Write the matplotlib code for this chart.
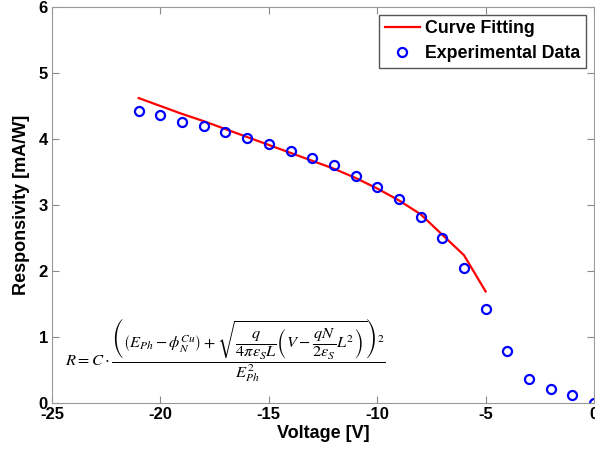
import matplotlib
matplotlib.use("Agg")
import matplotlib.pyplot as plt
import numpy as np

plt.rcParams['font.family'] = ['Liberation Sans', 'DejaVu Sans']
plt.rcParams['mathtext.fontset'] = 'stix'
plt.rcParams['axes.unicode_minus'] = False

# measured responsivity vs. bias voltage
v_exp = [-21, -20, -19, -18, -17, -16, -15, -14, -13, -12, -11,
         -10, -9, -8, -7, -6, -5, -4, -3, -2, -1, 0]
r_exp = [4.42, 4.37, 4.26, 4.20, 4.11, 4.02, 3.93, 3.82, 3.71, 3.60, 3.44,
         3.28, 3.09, 2.82, 2.50, 2.04, 1.42, 0.79, 0.37, 0.21, 0.12, 0.0]

# fitted model
v_fit = [-21, -20, -19, -18, -17, -16, -15, -14, -13, -12, -11,
         -10, -9, -8, -7, -6, -5]
r_fit = [4.62, 4.50, 4.38, 4.27, 4.15, 4.03, 3.91, 3.79, 3.67, 3.55, 3.41,
         3.25, 3.07, 2.86, 2.55, 2.24, 1.69]

fig = plt.figure(figsize=(5.95, 4.54), dpi=100)
ax = fig.add_axes([0.0874, 0.1123, 0.911, 0.8723])

ax.plot(v_fit, r_fit, color='red', linewidth=1.6, label='Curve Fitting')
ax.plot(v_exp, r_exp, 'o', markerfacecolor='none', markeredgecolor='blue',
        markeredgewidth=1.6, markersize=6.5, label='Experimental Data')

ax.set_xlim(-25, 0)
ax.set_ylim(0, 6)
ax.set_xticks(np.arange(-25, 1, 5))
ax.set_yticks(np.arange(0, 7, 1))
ax.tick_params(direction='in', top=True, right=True, labelsize=12, length=5,
               color='#888888', pad=3)
for lbl in ax.get_xticklabels() + ax.get_yticklabels():
    lbl.set_fontweight('bold')
for s in ax.spines.values():
    s.set_color('#999999')
ax.set_xlabel('Voltage [V]', fontsize=13, fontweight='bold', labelpad=2)
ax.set_ylabel('Responsivity [mA/W]', fontsize=13, fontweight='bold', labelpad=6)

leg = ax.legend(loc='upper right', fancybox=False,
                framealpha=1, edgecolor='#555555', handlelength=2.0,
                handletextpad=0.3, borderpad=0.3, labelspacing=0.45,
                borderaxespad=0.45, prop={'weight': 'bold', 'size': 12.8})

formula = (r'$R = C\cdot\dfrac{\left(\left(E_{Ph}-\phi_N^{Cu}\right)+'
           r'\sqrt{\dfrac{q}{4\pi\varepsilon_S L}\left(V-\dfrac{qN}{2\varepsilon_S}L^2\right)}'
           r'\right)^2}{E_{Ph}^2}$')
ax.text(-24.4, 0.8, formula, fontsize=11.8, va='center', ha='left')

fig.savefig('out.png', dpi=100)
